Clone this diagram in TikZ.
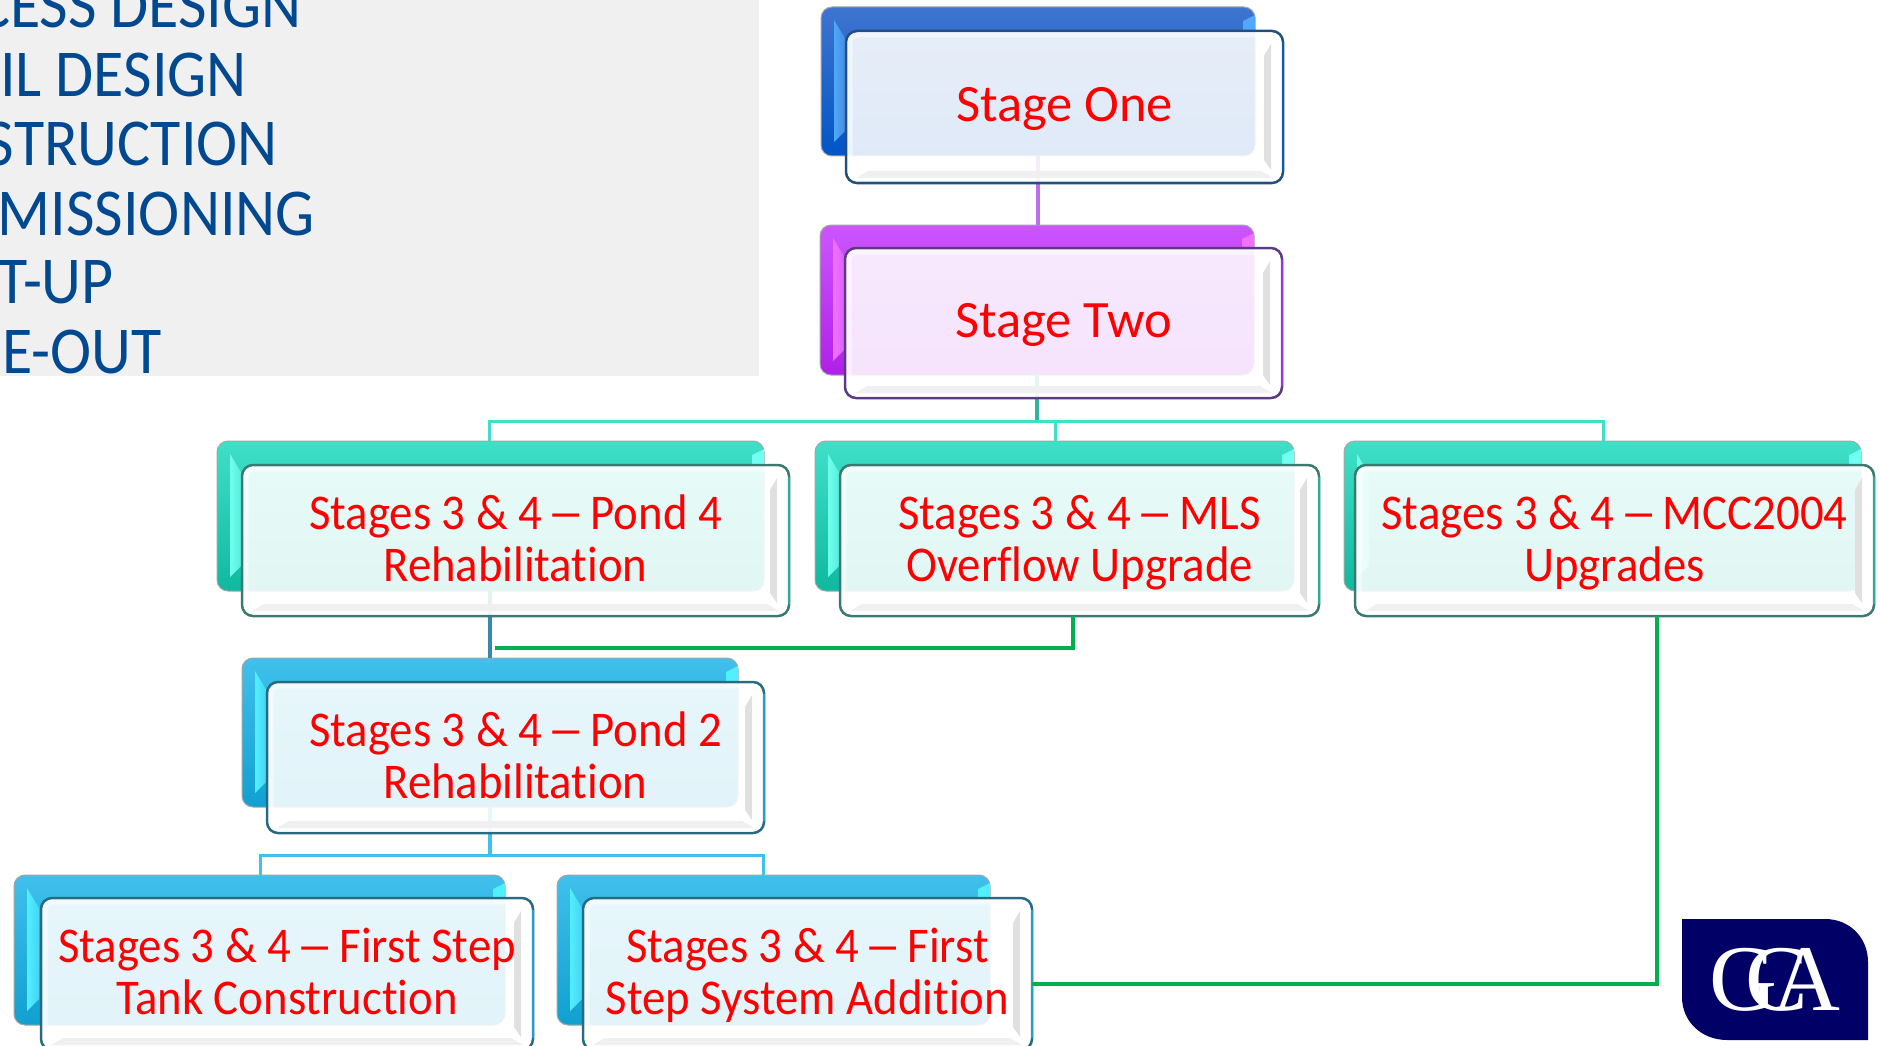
\documentclass[tikz,border=0pt]{standalone}
\usepackage{fontspec}
\setmainfont{Carlito}
\newfontfamily\plainfont[Ligatures=NoCommon]{Carlito}
\newfontfamily\condfont[FakeStretch=0.935,Ligatures=NoCommon]{Carlito}
\newfontfamily\listfont[FakeStretch=0.925,Ligatures=NoCommon]{Carlito}
\newfontfamily\logofont{Liberation Serif}
\pgfdeclarelayer{fronts}
\pgfsetlayers{main,fronts}
\definecolor{blueT}{HTML}{3F74D0}\definecolor{blueB}{HTML}{0055C5}\definecolor{blueH}{HTML}{4FA8F8}\definecolor{blueE}{HTML}{234E80}\definecolor{blueR}{HTML}{0A5CB0}
\definecolor{purpT}{HTML}{CC55FF}\definecolor{purpB}{HTML}{B020E8}\definecolor{purpH}{HTML}{F070FF}\definecolor{purpE}{HTML}{5A3A80}\definecolor{purpR}{HTML}{A030E0}
\definecolor{tealT}{HTML}{40E0C8}\definecolor{tealB}{HTML}{10B8A0}\definecolor{tealH}{HTML}{70FFF0}\definecolor{tealE}{HTML}{3A7A70}\definecolor{tealR}{HTML}{20B0A0}
\definecolor{cyanT}{HTML}{40C0EC}\definecolor{cyanB}{HTML}{10A0D0}\definecolor{cyanH}{HTML}{50F0FF}\definecolor{cyanE}{HTML}{2A6A80}\definecolor{cyanR}{HTML}{20A0D0}
\definecolor{listblue}{HTML}{004990}
\definecolor{panelgrey}{HTML}{F0F0F0}
\definecolor{linkgreen}{HTML}{00B050}
\definecolor{logonavy}{HTML}{000066}
\tikzset{
  x=1pt,y=-1pt,
  backshape/.style={rectangle,rounded corners=11pt,inner sep=0pt,outer sep=0pt,draw=black!35,line width=1pt},
  frontshape/.style={rectangle,rounded corners=11pt,inner sep=0pt,outer sep=0pt,line width=2.5pt,fill=white,fill opacity=.88,draw opacity=1,text opacity=1,text=red,align=center,font=\condfont\fontsize{50}{52}\selectfont},
  listline/.style={anchor=base east,inner sep=0pt,text=listblue,font=\listfont\fontsize{67}{69}\selectfont},
  purplelink/.style={draw=purpR!70!white,line width=4pt},
  teallink/.style={draw=tealT,line width=3pt},
  stemteal/.style={draw=tealT!80!black,line width=4pt},
  stemsteel/.style={draw=cyanE!60!cyanT,line width=4pt},
  cyanlink/.style={draw=cyanT,line width=3pt},
  greenlink/.style={draw=linkgreen,line width=4.5pt},
}
\newcommand\backbox[6]{%
  \node[backshape,top color=#6T,bottom color=#6B,minimum width={(#4-#2)*1pt},minimum height={(#5-#3)*1pt}] (#1) at ({(#2+#4)/2},{(#3+#5)/2}) {};
  \shade[left color=#6H,right color=#6T!60!#6H] ({#2+13},{#3+13}) -- ({#2+25},{#3+33}) -- ({#2+25},{#5-26}) -- ({#2+13},{#5-14}) -- cycle;
  \fill[#6H] ({#4-12},{#3+14}) -- ({#4},{#3+8}) -- ({#4},{#3+26}) -- ({#4-12},{#3+26}) -- cycle;
}
\newcommand\frontbox[7]{%
  \begin{pgfonlayer}{fronts}
  \node[frontshape,draw=#6E,minimum width={(#4-#2)*1pt},minimum height={(#5-#3)*1pt}] (#1) at ({(#2+#4)/2},{(#3+#5)/2}) {#7};
  \draw[#6R,line width=2.5pt] (#4,{#3+12}) -- (#4,{#5-12});
  \draw[white,opacity=.5,line width=5pt,rounded corners=8pt] ({#2+4},{#3+4}) rectangle ({#4-4},{#5-4});
  \fill[black!12] ({#4-19},{#3+25}) -- ({#4-12},{#3+13}) -- ({#4-12},{#5-13}) -- ({#4-19},{#5-23}) -- cycle;
  \fill[black!6] ({#2+10},{#5-5}) -- ({#4-10},{#5-5}) -- ({#4-22},{#5-12}) -- ({#2+22},{#5-12}) -- cycle;
  \end{pgfonlayer}
}
\newcommand\topr{\rule{0pt}{42pt}}
\newcommand\botr{\rule[-13pt]{0pt}{13pt}}
\newcommand\onefont{\plainfont\fontsize{52.5}{54}\selectfont}
\newcommand\ldash{\kern-5pt\scalebox{1.6}[1]{–}\kern-5pt}
\begin{document}
\begin{tikzpicture}
\useasboundingbox (0,0) rectangle (1880,1046);
\fill[white] (0,0) rectangle (1880,1046);
\node[rectangle,fill=panelgrey,inner sep=0pt,outer sep=0pt,minimum width=759pt,minimum height=376pt] (panel) at (379.5,188) {};
\node[listline] (l1) at (302,28) {CESS DESIGN};
\node[listline] (l2) at (247,97) {AIL DESIGN};
\node[listline] (l3) at (278,166) {STRUCTION};
\node[listline] (l4) at (315,235) {MISSIONING};
\node[listline] (l5) at (114,303) {T-UP};
\node[listline] (l6) at (162,373) {E-OUT};

\backbox{s1b}{821}{7}{1255}{156}{blue}
\frontbox{s1}{846}{31}{1283}{183}{blue}{\onefont\topr Stage One\botr}
\backbox{s2b}{820}{225}{1254}{375}{purp}
\frontbox{s2}{845}{248}{1282}{398}{purp}{\onefont\topr Stage Two\botr}
\backbox{p4b}{217}{441}{764}{591}{teal}
\frontbox{p4}{242}{465}{789}{616}{teal}{\topr Stages 3 \& 4 \ldash{} Pond 4\\Rehabilitation\botr}
\backbox{mlsb}{815}{441}{1294}{591}{teal}
\frontbox{mls}{840}{465}{1319}{616}{teal}{\topr Stages 3 \& 4 \ldash{} MLS\\Overflow Upgrade\botr}
\backbox{mccb}{1344}{441}{1861}{591}{teal}
\frontbox{mcc}{1355}{465}{1874}{616}{teal}{\topr Stages 3 \& 4 \ldash{} MCC2004\\Upgrades\botr}
\backbox{p2b}{242}{658}{738}{807}{cyan}
\frontbox{p2}{267}{682}{764}{833}{cyan}{\topr Stages 3 \& 4 \ldash{} Pond 2\\Rehabilitation\botr}
\backbox{fsb}{14}{875}{505}{1025}{cyan}
\frontbox{fs}{41}{898}{533}{1050}{cyan}{\topr Stages 3 \& 4 \ldash{} First Step\\Tank Construction\botr}
\backbox{ssb}{557}{875}{990}{1025}{cyan}
\frontbox{ss}{583}{898}{1032}{1050}{cyan}{\topr Stages 3 \& 4 \ldash{} First\\Step System Addition\botr}

\coordinate (xa) at (1038,0);
\coordinate (busT) at (1037,421);
\coordinate (busL) at (489,421);
\coordinate (busM) at (1055,421);
\coordinate (busR) at (1603,421);
\coordinate (xb) at (490,0);
\coordinate (busC) at (490,855);
\coordinate (busCL) at (260,855);
\coordinate (busCR) at (763,855);
\draw[purplelink] (s1b.south -| xa) -- (s2b.north -| xa);
\draw[stemteal] (s2b.south -| busT) -- (busT);
\draw[teallink] (p4b.north -| busL) -- (busL) -- (busR) -- (mccb.north -| busR);
\draw[teallink] (busM) -- (mlsb.north -| busM);
\draw[stemsteel] (p4b.south -| xb) -- (p2b.north -| xb);
\draw[cyanlink,line width=4pt] (p2b.south -| busC) -- (busC);
\draw[cyanlink] (fsb.north -| busCL) -- (busCL) -- (busCR) -- (ssb.north -| busCR);

\begin{pgfonlayer}{fronts}
\coordinate (gA) at (495,648);
\coordinate (gB) at (1073,648);
\coordinate (gC) at (1657,984);
\draw[greenlink] (gA) -- (gB) -- (mls.south -| gB);
\draw[greenlink] (mcc.south -| gC) -- (gC) -- (ss.east |- gC);
\fill[logonavy] (1682,919) -- (1825,919) .. controls (1850,919) and (1868,938) .. (1868,962) -- (1868,1040) -- (1727,1040) .. controls (1702,1040) and (1682,1022) .. (1682,997) -- cycle;
\node[inner sep=0pt,text=white,font=\logofont\fontsize{94}{94}\selectfont,anchor=base] (logo) at (1775,1010) {G\kern-32pt C\kern-36pt A};
\end{pgfonlayer}
\end{tikzpicture}
\end{document}
